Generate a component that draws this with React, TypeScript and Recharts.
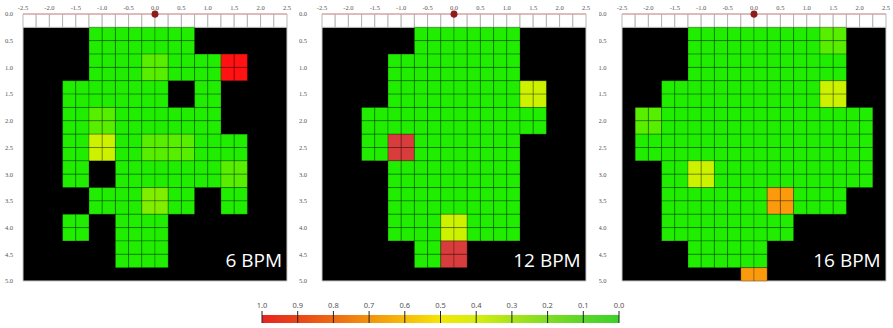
import React from 'react';
import { ComposedChart, XAxis, YAxis, ReferenceArea, ReferenceLine, ReferenceDot, Scatter } from 'recharts';

// ---------- data ----------
const X_TICKS = [-2.5, -2.0, -1.5, -1.0, -0.5, 0.0, 0.5, 1.0, 1.5, 2.0, 2.5];
const Y_TICKS = [0.0, 0.5, 1.0, 1.5, 2.0, 2.5, 3.0, 3.5, 4.0, 4.5, 5.0];
const X_DOMAIN: [number, number] = [-2.5, 2.5];
const Y_DOMAIN: [number, number] = [0, 5];
const CELL_SIZE = 0.25;
const COLUMNS = 20;

// cell level codes -> value on the 0..1 scale
const LEVELS: Record<string, { value: number; color: string }> = {
  g: { value: 0.0, color: '#20ed00' },
  h: { value: 0.1, color: '#58ee00' },
  i: { value: 0.15, color: '#80ee00' },
  y: { value: 0.4, color: '#cdf200' },
  o: { value: 0.7, color: '#fb9a0c' },
  m: { value: 0.95, color: '#d83c3c' },
  r: { value: 1.0, color: '#ff1212' },
};

// rows from y=0.25 to y=5.0 (each 0.25), 20 columns from x=-2.5 to 2.5 ('.' = no data)
const GRID_6BPM = [
  '.....gggggggg.......',
  '.....gggggggg.......',
  '.....gggghhggggrr...',
  '.....gggghhggggrr...',
  '...gggggggg..gg.....',
  '...gggggggg..gg.....',
  '...gghhgggggggg.....',
  '...gghhgggggggg.....',
  '...ggyygghhhhgggg...',
  '...ggyygghhhhgggg...',
  '...gg..gggggggghh...',
  '...gg..gggggggghh...',
  '.....ggggiigg..gg...',
  '.....ggggiigg..gg...',
  '...gg..gggg.........',
  '...gg..gggg.........',
  '.......gggg.........',
  '.......gggg.........',
  '....................',
];

const GRID_12BPM = [
  '.......gggggggg.....',
  '.......gggggggg.....',
  '.....gggggggggg.....',
  '.....gggggggggg.....',
  '.....ggggggggggyy...',
  '.....ggggggggggyy...',
  '...gggggggggggggg...',
  '...gggggggggggggg...',
  '...ggmmgggggggg.....',
  '...ggmmgggggggg.....',
  '.....gggggggggg.....',
  '.....gggggggggg.....',
  '.....gggggggggg.....',
  '.....gggggggggg.....',
  '.....ggggyygggg.....',
  '.....ggggyygggg.....',
  '.......ggmm.........',
  '.......ggmm.........',
  '....................',
];

const GRID_16BPM = [
  '.....gggggggggghh...',
  '.....gggggggggghh...',
  '.....gggggggggggg...',
  '.....gggggggggggg...',
  '...ggggggggggggyy...',
  '...ggggggggggggyy...',
  '.hhgggggggggggggggg.',
  '.hhgggggggggggggggg.',
  '.gggggggggggggggggg.',
  '.gggggggggggggggggg.',
  '...ggyygggggggggggg.',
  '...ggyygggggggggggg.',
  '...ggggggggoogggg...',
  '...ggggggggoogggg...',
  '...gggggggggg.......',
  '...gggggggggg.......',
  '.....gggggg.........',
  '.....gggggg.........',
  '.........oo.........',
];

const PANEL_LABELS = ['6 BPM', '12 BPM', '16 BPM'];
const ORIGIN_POINT = [{ x: 0, y: 0 }];

const COLORBAR_TICKS = [0.0, 0.1, 0.2, 0.3, 0.4, 0.5, 0.6, 0.7, 0.8, 0.9, 1.0];
const COLORBAR_STOPS = [
  { value: 1.0, color: '#e62420' },
  { value: 0.9, color: '#ea4418' },
  { value: 0.8, color: '#ee6a12' },
  { value: 0.7, color: '#f2920e' },
  { value: 0.6, color: '#f6bc0a' },
  { value: 0.5, color: '#f4e606' },
  { value: 0.4, color: '#d6ee10' },
  { value: 0.3, color: '#a8e418' },
  { value: 0.2, color: '#80dc22' },
  { value: 0.1, color: '#5cd628' },
  { value: 0.0, color: '#3cd22c' },
];

// ---------- layout ----------
const CHART_W = 292;
const CHART_H = 290;
const MARGIN = { top: 0, right: 5, bottom: 9, left: 5 };
const Y_AXIS_W = 18;
const X_AXIS_H = 14;
const PANEL_LEFTS = [0, 298.7, 598.7];
const Y_TICK_GAPS = [10, 15, 15.5];
const TICK_FONT = { fontSize: 6.5, fill: '#555', fontFamily: '"Liberation Serif", serif' };

function toCells(rows: string[]) {
  const out: { key: string; x1: number; x2: number; y1: number; y2: number; color: string }[] = [];
  rows.forEach((row, r) => {
    for (let c = 0; c < row.length; c++) {
      const ch = row[c];
      if (ch === '.') continue;
      const x1 = X_DOMAIN[0] + c * CELL_SIZE;
      const y1 = (r + 1) * CELL_SIZE;
      out.push({ key: `${r}-${c}`, x1, x2: x1 + CELL_SIZE, y1, y2: y1 + CELL_SIZE, color: LEVELS[ch].color });
    }
  });
  return out;
}

const TOP_ROW = Array.from({ length: COLUMNS }, (_, c) => X_DOMAIN[0] + c * CELL_SIZE);

function OriginDot(props: any) {
  const { cx, cy } = props;
  if (cx == null || cy == null) return null;
  return <circle cx={cx} cy={cy} r={3.4} fill="#8e1c1c" />;
}

function NoShape() {
  return <g />;
}

function Panel({ rows, label, left, yGap }: { rows: string[]; label: string; left: number; yGap: number }) {
  const cells = toCells(rows);
  return (
    <div style={{ position: 'absolute', left, top: 0, width: CHART_W, height: CHART_H }}>
      <ComposedChart width={CHART_W} height={CHART_H} margin={MARGIN}>
        <XAxis
          type="number"
          dataKey="x"
          orientation="top"
          domain={X_DOMAIN}
          ticks={X_TICKS}
          interval={0}
          height={X_AXIS_H}
          tickLine={false}
          tickSize={2}
          tickMargin={2}
          axisLine={{ stroke: '#e09a9a' }}
          tick={TICK_FONT}
          tickFormatter={(v: number) => v.toFixed(1)}
          allowDataOverflow
        />
        <YAxis
          type="number"
          dataKey="y"
          domain={Y_DOMAIN}
          reversed
          ticks={Y_TICKS}
          interval={0}
          width={Y_AXIS_W}
          tickLine={false}
          axisLine={false}
          tickSize={0}
          tickMargin={yGap}
          tick={TICK_FONT}
          tickFormatter={(v: number) => v.toFixed(1)}
          allowDataOverflow
        />
        <ReferenceArea x1={X_DOMAIN[0]} x2={X_DOMAIN[1]} y1={CELL_SIZE} y2={Y_DOMAIN[1]} fill="#000" fillOpacity={1} stroke="#c8c8c8" strokeWidth={1} />
        {TOP_ROW.map((x1) => (
          <ReferenceArea key={`t${x1}`} x1={x1} x2={x1 + CELL_SIZE} y1={0} y2={CELL_SIZE} fill="#fff" fillOpacity={1} stroke="#a8a8a8" strokeWidth={0.8} />
        ))}
        {cells.map((c) => (
          <ReferenceArea key={c.key} x1={c.x1} x2={c.x2} y1={c.y1} y2={c.y2} fill={c.color} fillOpacity={1} stroke="rgba(0,0,0,0.3)" strokeWidth={0.8} />
        ))}
        <Scatter data={ORIGIN_POINT} dataKey="y" fill="#8e1c1c" isAnimationActive={false} shape={<OriginDot />} />
        <ReferenceDot x={ORIGIN_POINT[0].x} y={ORIGIN_POINT[0].y} r={3.4} fill="#8e1c1c" stroke="none" ifOverflow="visible" />
      </ComposedChart>
      <div
        style={{
          position: 'absolute',
          right: MARGIN.right + 5,
          top: 251,
          color: '#fff',
          fontFamily: '"Open Sans", sans-serif',
          fontSize: 19,
          lineHeight: '19px',
          whiteSpace: 'nowrap',
        }}
      >
        {label}
      </div>
    </div>
  );
}

const COLORBAR_POINTS = COLORBAR_TICKS.map((t) => ({ x: t, y: 0.5 }));

function ColorBar() {
  return (
    <div style={{ position: 'absolute', left: 252, top: 295, width: 377, height: 31 }}>
      <ComposedChart width={377} height={31} margin={{ top: 0, right: 10, bottom: 3, left: 10 }} data={COLORBAR_POINTS}>
        <defs>
          <linearGradient id="cbarGrad" x1="0" y1="0" x2="1" y2="0">
            {COLORBAR_STOPS.map((s) => (
              <stop key={s.value} offset={`${(1 - s.value) * 100}%`} stopColor={s.color} />
            ))}
          </linearGradient>
        </defs>
        <XAxis
          type="number"
          dataKey="x"
          orientation="top"
          domain={[0, 1]}
          reversed
          ticks={COLORBAR_TICKS}
          interval={0}
          height={20}
          tickSize={4}
          tickMargin={3}
          tickLine={{ stroke: '#222' }}
          axisLine={false}
          tick={{ fontSize: 7.5, fill: '#555', fontFamily: '"Noto Sans", sans-serif' }}
          tickFormatter={(v: number) => v.toFixed(1)}
        />
        <YAxis type="number" dataKey="y" domain={[0, 1]} hide />
        <ReferenceArea x1={0} x2={1} y1={0} y2={1} fill="url(#cbarGrad)" fillOpacity={1} stroke="none" />
        {COLORBAR_TICKS.map((t) => (
          <ReferenceLine key={t} x={t} stroke="#222" strokeWidth={1} />
        ))}
        <Scatter data={COLORBAR_POINTS} dataKey="y" isAnimationActive={false} shape={<NoShape />} />
      </ComposedChart>
    </div>
  );
}

export default function App() {
  const grids = [GRID_6BPM, GRID_12BPM, GRID_16BPM];
  return (
    <div style={{ position: 'absolute', left: 0, top: 0, width: 893, height: 328, background: '#fff', overflow: 'hidden' }}>
      {grids.map((g, i) => (
        <Panel key={i} rows={g} label={PANEL_LABELS[i]} left={PANEL_LEFTS[i]} yGap={Y_TICK_GAPS[i]} />
      ))}
      <ColorBar />
    </div>
  );
}
